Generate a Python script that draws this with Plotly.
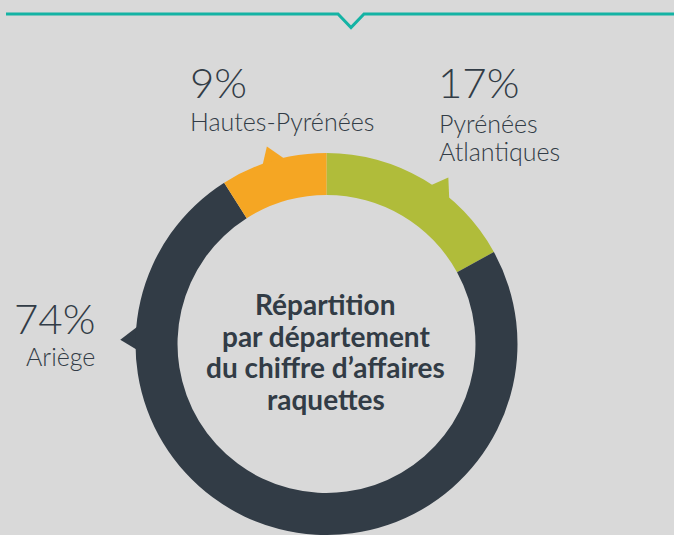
import math
import plotly.graph_objects as go

# ---- data ----
departments = ["Pyrénées<br>Atlantiques", "Ariège", "Hautes-Pyrénées"]
shares = [17, 74, 9]
pct_labels = ["17%", "74%", "9%"]
label_lines = [["Pyrénées", "Atlantiques"], ["Ariège"], ["Hautes-Pyrénées"]]
center_title = ["Répartition", "par département", "du chiffre d’affaires", "raquettes"]

# ---- style / layout ----
W, H = 674, 535
BG = "#d9d9d9"
DARK = "#323c46"
colors = ["#b0bc3a", DARK, "#f5a623"]
TEAL = "#14b3a4"
CX, R = 326.5, 191.0
CY = H - R
HOLE = 0.78
pointer_angles = [37, -88, -16]  # degrees clockwise from 12 o'clock
FONT = "Lato"

fig = go.Figure()

fig.add_trace(go.Pie(
    labels=departments, values=shares, sort=False, direction="clockwise",
    rotation=0, hole=HOLE, marker=dict(colors=colors, line=dict(width=0)),
    textinfo="none", hoverinfo="label+percent", showlegend=False,
    domain=dict(x=[(CX - R) / W, (CX + R) / W], y=[0, 2 * R / H]),
))

# pointer triangles on the ring
for ang, col in zip(pointer_angles, colors):
    pts = []
    for a, r in [(ang - 4.6, 0.97 * R), (ang - 0.8, 1.08 * R), (ang + 4.6, 0.97 * R)]:
        t = math.radians(a)
        pts.append((CX + r * math.sin(t), CY - r * math.cos(t)))
    fig.add_trace(go.Scatter(
        x=[p[0] for p in pts], y=[p[1] for p in pts], mode="lines",
        fill="toself", fillcolor=col, line=dict(width=0, color=col),
        hoverinfo="skip", showlegend=False,
    ))

anns = []
# Pyrénées Atlantiques
anns.append(dict(x=436, y=82, text=pct_labels[0], xanchor="left", size=42))
anns.append(dict(x=437, y=123, text=label_lines[0][0], xanchor="left", size=25))
anns.append(dict(x=437, y=151, text=label_lines[0][1], xanchor="left", size=25))
# Hautes-Pyrénées
anns.append(dict(x=188, y=82, text=pct_labels[2], xanchor="left", size=42))
anns.append(dict(x=188, y=121, text=label_lines[2][0], xanchor="left", size=25))
# Ariège
anns.append(dict(x=97, y=318, text=pct_labels[1], xanchor="right", size=42))
anns.append(dict(x=97, y=356, text=label_lines[1][0], xanchor="right", size=25))

for a in anns:
    fig.add_annotation(x=a["x"], y=a["y"], xref="x", yref="y", text=a["text"],
                       showarrow=False, xanchor=a["xanchor"], yanchor="middle",
                       font=dict(family=FONT, size=a["size"], color=DARK, weight=300))

for i, line in enumerate(center_title):
    fig.add_annotation(x=CX - 1, y=304 + i * 31.5, xref="x", yref="y", text=line,
                       showarrow=False, xanchor="center", yanchor="middle",
                       font=dict(family=FONT, size=28, color=DARK, weight=700))

fig.add_shape(type="path", xref="x", yref="y",
              path="M 6 14 L 338 14 L 351 27.5 L 364 14 L 674 14",
              line=dict(color=TEAL, width=3))

fig.update_layout(
    width=W, height=H, margin=dict(l=0, r=0, t=0, b=0),
    paper_bgcolor=BG, plot_bgcolor=BG,
    xaxis=dict(range=[0, W], visible=False, fixedrange=True),
    yaxis=dict(range=[H, 0], visible=False, fixedrange=True),
)

fig.write_html("out.html", config={"displayModeBar": False},
               post_script="document.body.style.margin='0';document.body.style.background='%s';" % BG)
